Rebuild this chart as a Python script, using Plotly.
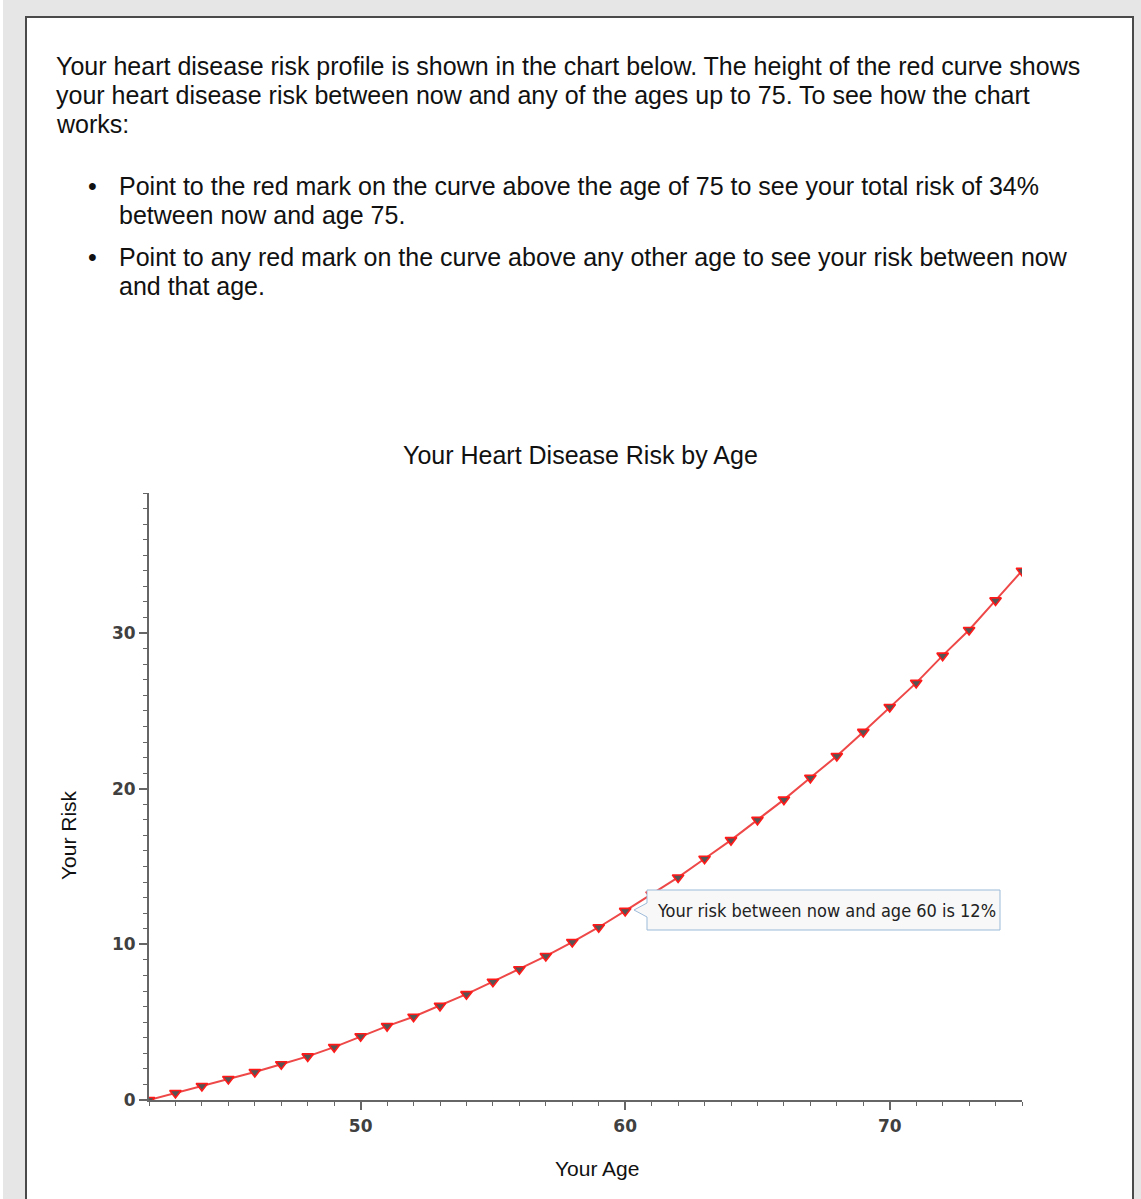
import plotly.graph_objects as go

# ---------------- data ----------------
ages = [42, 43, 44, 45, 46, 47, 48, 49, 50, 51, 52, 53, 54, 55, 56, 57, 58,
        59, 60, 61, 62, 63, 64, 65, 66, 67, 68, 69, 70, 71, 72, 73, 74, 75]
risk = [0, 0.45, 0.9, 1.35, 1.8, 2.3, 2.8, 3.4, 4.1, 4.75, 5.35, 6.05, 6.8,
        7.6, 8.4, 9.25, 10.15, 11.1, 12.15, 13.2, 14.3, 15.5, 16.7, 18.0,
        19.3, 20.7, 22.1, 23.65, 25.25, 26.8, 28.55, 30.2, 32.1, 34.0]
x_ticks = [50, 60, 70]
y_ticks = [0, 10, 20, 30]
x_range = [42, 75]
y_range = [0, 39]
tooltip_age = 60

title_text = "Your Heart Disease Risk by Age"
x_title = "Your Age"
y_title = "Your Risk"
intro_lines = [
    "Your heart disease risk profile is shown in the chart below. The height of the red curve shows",
    "your heart disease risk between now and any of the ages up to 75. To see how the chart",
    "works:",
]
bullet_lines = [
    ["Point to the red mark on the curve above the age of 75 to see your total risk of 34%",
     "between now and age 75."],
    ["Point to any red mark on the curve above any other age to see your risk between now",
     "and that age."],
]

# ---------------- layout geometry (pixels) ----------------
W, H = 1141, 1199
PL, PR, PT, PB = 149, 1022, 493, 1100


def px(X):
    return (X - PL) / (PR - PL)


def py(Y):
    return (PB - Y) / (PB - PT)


fig = go.Figure()
fig.add_trace(go.Scatter(
    x=ages, y=risk, mode="lines+markers",
    line=dict(color="rgb(238,72,72)", width=2),
    marker=dict(symbol="triangle-down", size=10, color="#555555",
                line=dict(color="#ff1a1a", width=1.6)),
    hoverinfo="skip", showlegend=False,
))

BODY = "Liberation Sans"
ann = []
for i, t in enumerate(intro_lines):
    ann.append(dict(x=px(54), y=py(66 + 29 * i), xref="paper", yref="paper", text=t,
                    showarrow=False, xanchor="left", yanchor="middle",
                    font=dict(family=BODY, size=25, color="#111111")))
for b, lines in enumerate(bullet_lines):
    y0 = 186 + 71 * b
    ann.append(dict(x=px(86), y=py(y0), xref="paper", yref="paper", text="\u2022",
                    showarrow=False, xanchor="left", yanchor="middle",
                    font=dict(family=BODY, size=25, color="#111111")))
    for j, t in enumerate(lines):
        ann.append(dict(x=px(117), y=py(y0 + 29 * j), xref="paper", yref="paper", text=t,
                        showarrow=False, xanchor="left", yanchor="middle",
                        font=dict(family=BODY, size=25, color="#111111")))

ann.append(dict(x=px(580), y=py(455), xref="paper", yref="paper", text=title_text,
                showarrow=False, xanchor="center", yanchor="middle",
                font=dict(family=BODY, size=25, color="#111111")))
ann.append(dict(x=px(597), y=py(1168), xref="paper", yref="paper", text=x_title,
                showarrow=False, xanchor="center", yanchor="middle",
                font=dict(family=BODY, size=21, color="#111111")))
ann.append(dict(x=px(68), y=py(835), xref="paper", yref="paper", text=y_title,
                showarrow=False, textangle=-90, xanchor="center", yanchor="middle",
                font=dict(family=BODY, size=21, color="#111111")))

ti = ages.index(tooltip_age)
ann.append(dict(x=px(655), y=py(910), xref="paper", yref="paper",
                text=f"Your risk between now and age {ages[ti]} is {round(risk[ti])}%",
                showarrow=False, xanchor="left", yanchor="middle",
                font=dict(family="DejaVu Sans Condensed", size=18, color="#222222")))

shapes = [
    dict(type="rect", xref="paper", yref="paper", x0=px(0), x1=px(3), y0=py(0), y1=py(H + 5),
         fillcolor="white", line=dict(width=0), layer="below"),
    dict(type="rect", xref="paper", yref="paper", x0=px(26), x1=px(1133), y0=py(17), y1=py(H + 10),
         fillcolor="white", line=dict(color="#4a4a4a", width=2), layer="below"),
]
bx0, bx1, by0, by1 = 647, 1000, 890, 930
tip_path = (f"M {px(bx0)},{py(by0)} L {px(bx1)},{py(by0)} L {px(bx1)},{py(by1)} "
            f"L {px(bx0)},{py(by1)} L {px(bx0)},{py(917)} L {px(634)},{py(910)} "
            f"L {px(bx0)},{py(903)} Z")
shapes.append(dict(type="path", xref="paper", yref="paper", path=tip_path,
                   fillcolor="#f8f8f8", line=dict(color="#9dbbd9", width=1), layer="above"))

tickfont = dict(family="DejaVu Sans", size=17, color="#404040", weight="bold")
fig.update_layout(
    width=W, height=H,
    margin=dict(l=PL, r=W - PR, t=PT, b=H - PB, pad=0),
    paper_bgcolor="#e6e6e6", plot_bgcolor="white",
    shapes=shapes, showlegend=False,
    xaxis=dict(range=x_range, tickvals=x_ticks, showgrid=False, zeroline=False,
               showline=True, linecolor="#666666", linewidth=2,
               ticks="outside", ticklen=8, tickwidth=1.5, tickcolor="#666666",
               tickfont=tickfont, ticklabelstandoff=2,
               minor=dict(dtick=1, ticks="outside", ticklen=4, tickwidth=1.2,
                          tickcolor="#666666", showgrid=False)),
    yaxis=dict(range=y_range, tickvals=y_ticks, showgrid=False, zeroline=False,
               showline=True, linecolor="#666666", linewidth=2,
               ticks="outside", ticklen=8, tickwidth=1.5, tickcolor="#666666",
               tickfont=tickfont,
               minor=dict(dtick=1, ticks="outside", ticklen=4, tickwidth=1.2,
                          tickcolor="#666666", showgrid=False)),
)
for a in ann:
    fig.add_annotation(**a)

fig.write_html("out.html", config={"displayModeBar": False},
               post_script="document.body.style.margin='0';document.body.style.overflow='hidden';")
